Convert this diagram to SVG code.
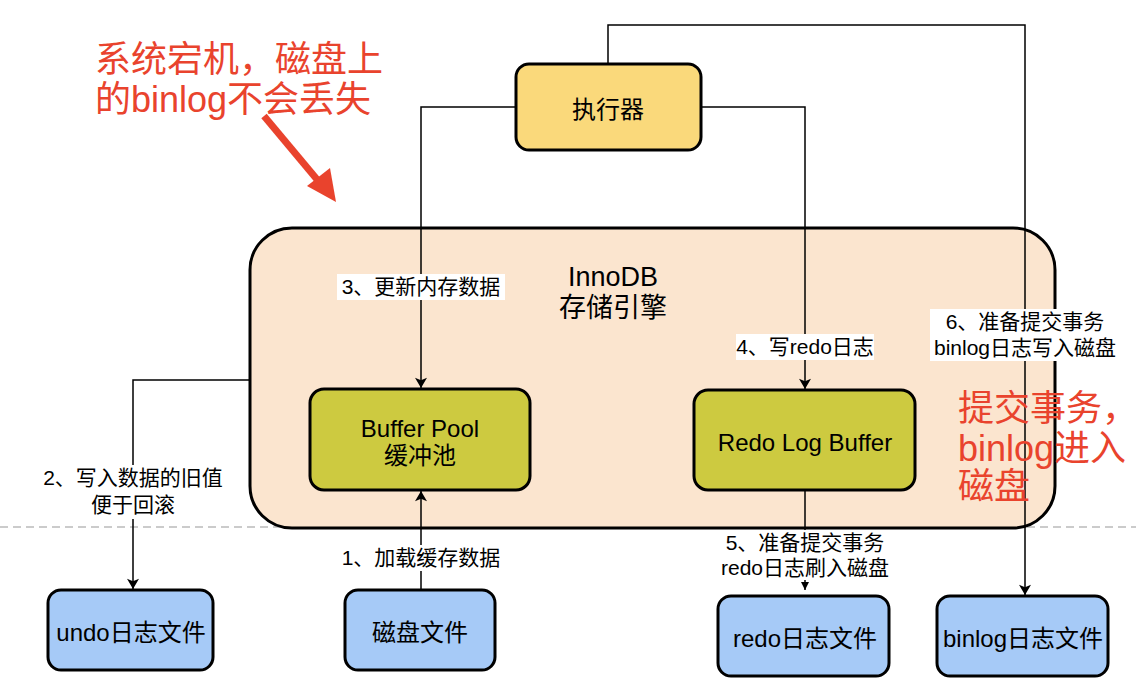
<svg xmlns="http://www.w3.org/2000/svg" width="1136" height="684" viewBox="0 0 1136 684">
<defs>
<style>
.t{font-family:"Liberation Sans","Noto Sans CJK SC",sans-serif;fill:#000;text-anchor:middle}
.n{font-size:24px}
.h{font-size:27px}
.l{font-size:21px}
.red{font-family:"Liberation Sans","Noto Sans CJK SC",sans-serif;fill:#E9432D;font-size:36px}
.box{stroke:#000;stroke-width:3}
.c{fill:none;stroke:#000;stroke-width:1.5}
.bg{fill:#fff}
</style>
<marker id="ah" viewBox="0 0 12 14" refX="12" refY="7" markerWidth="14" markerHeight="12" markerUnits="userSpaceOnUse" orient="auto">
<path d="M0,0 L12,7 L0,14 L3,7 Z" fill="#000"/>
</marker>
<marker id="sm" viewBox="0 0 8 8" refX="8" refY="4" markerWidth="8" markerHeight="8" markerUnits="userSpaceOnUse" orient="auto">
<path d="M0,0 L8,4 L0,8 Z" fill="#000"/>
</marker>
</defs>
<rect width="1136" height="684" fill="#fff"/>
<line x1="0" y1="527" x2="1136" y2="527" stroke="#BBBBBB" stroke-width="1.5" stroke-dasharray="8,5"/>

<g id="innodb">
<rect class="box" x="250" y="228" width="805" height="300" rx="42" fill="#FBE5CF"/>
<text class="t h" x="613" y="286">InnoDB</text>
<text class="t h" x="613" y="317">存储引擎</text>
</g>

<g id="connectors">
<polyline class="c" points="608,64 608,25 1025,25 1025,595" marker-end="url(#ah)"/>
<polyline class="c" points="516,107 421,107 421,388" marker-end="url(#ah)"/>
<polyline class="c" points="701,107 805,107 805,389" marker-end="url(#ah)"/>
<polyline class="c" points="250,380 133,380 133,589" marker-end="url(#ah)"/>
<line class="c" x1="421" y1="590" x2="421" y2="491" marker-end="url(#ah)"/>
<line class="c" x1="805" y1="490" x2="805" y2="590" marker-end="url(#sm)"/>
<rect class="bg" x="337" y="274" width="168" height="26"/>
<text class="t l" x="421" y="294">3、更新内存数据</text>
<rect class="bg" x="736" y="334" width="138" height="26"/>
<text class="t l" x="805" y="354">4、写redo日志</text>
<rect class="bg" x="930" y="309" width="190" height="52"/>
<text class="t l" x="1025" y="329">6、准备提交事务</text>
<text class="t l" x="1025" y="355">binlog日志写入磁盘</text>
<rect class="bg" x="36" y="465" width="194" height="27"/>
<rect class="bg" x="88" y="492" width="90" height="27"/>
<text class="t l" x="133" y="485">2、写入数据的旧值</text>
<text class="t l" x="133" y="512">便于回滚</text>
<rect class="bg" x="337" y="545" width="168" height="26"/>
<text class="t l" x="421" y="565">1、加载缓存数据</text>
<rect class="bg" x="714" y="530" width="180" height="50"/>
<text class="t l" x="805" y="550">5、准备提交事务</text>
<text class="t l" x="805" y="575">redo日志刷入磁盘</text>
</g>

<g id="executor">
<rect class="box" x="516" y="64" width="185" height="86" rx="13" fill="#FAD97B"/>
<text class="t n" x="608" y="118">执行器</text>
</g>
<g id="bufferpool">
<rect class="box" x="310" y="389" width="220" height="101" rx="14" fill="#CDCA40"/>
<text class="t n" x="420" y="437">Buffer Pool</text>
<text class="t n" x="420" y="464">缓冲池</text>
</g>
<g id="redologbuffer">
<rect class="box" x="694" y="390" width="221" height="100" rx="14" fill="#CDCA40"/>
<text class="t n" x="805" y="451">Redo Log Buffer</text>
</g>
<g id="undo">
<rect class="box" x="48" y="590" width="165" height="80" rx="13" fill="#A6CAF7"/>
<text class="t n" x="131" y="641">undo日志文件</text>
</g>
<g id="diskfile">
<rect class="box" x="345" y="590" width="150" height="80" rx="13" fill="#A6CAF7"/>
<text class="t n" x="420" y="641">磁盘文件</text>
</g>
<g id="redofile">
<rect class="box" x="718" y="596" width="171" height="80" rx="13" fill="#A6CAF7"/>
<text class="t n" x="805" y="647">redo日志文件</text>
</g>
<g id="binlogfile">
<rect class="box" x="937" y="596" width="171" height="80" rx="13" fill="#A6CAF7"/>
<text class="t n" x="1023" y="647">binlog日志文件</text>
</g>

<g id="annotations">
<text class="red" x="95" y="72">系统宕机，磁盘上</text>
<text class="red" x="95" y="112">的binlog不会丢失</text>
<line x1="264" y1="116" x2="320" y2="183" stroke="#E9432D" stroke-width="7"/>
<path d="M336,202 L307,186 L330,168 Z" fill="#E9432D"/>
<text class="red" x="958" y="421">提交事务，</text>
<text class="red" x="958" y="461">binlog进入</text>
<text class="red" x="958" y="499">磁盘</text>
</g>
</svg>
